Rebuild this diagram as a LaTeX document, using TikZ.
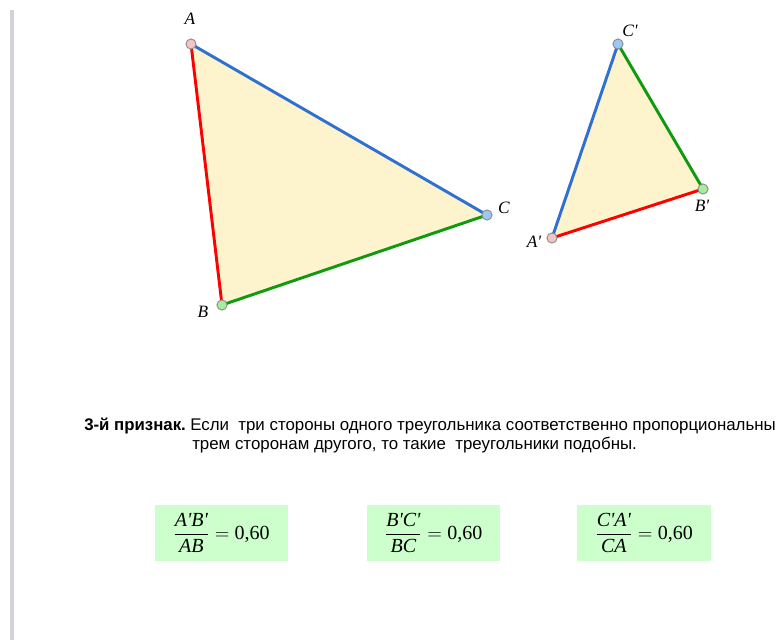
\documentclass[tikz,border=0pt]{standalone}
\usepackage{fontspec}
\usepackage{amsmath}
\setmainfont{Liberation Serif}
\newfontfamily\arialn{Liberation Sans}
\definecolor{fillY}{HTML}{FDF3CC}
\definecolor{edgeR}{HTML}{FF0000}
\definecolor{edgeB}{HTML}{3070D0}
\definecolor{edgeG}{HTML}{109A10}
\definecolor{ptP}{HTML}{F4C4C4}
\definecolor{ptG}{HTML}{A4EEA0}
\definecolor{ptB}{HTML}{9CC8F4}
\definecolor{boxG}{HTML}{CCFFCC}
\definecolor{barG}{HTML}{D2D2DA}
\newcommand{\pq}{\textquotesingle}
\newcommand{\myfrac}[2]{\genfrac{}{}{0.9pt}{0}{\text{\itshape #1}}{\text{\itshape #2}}}
\begin{document}
\begin{tikzpicture}[x=0.75pt,y=-0.75pt,
  pt/.style={circle,draw=gray!90,line width=0.7pt,inner sep=0pt,minimum size=7.6pt},
  side/.style={line width=2.2pt},
  lab/.style={font=\fontsize{13}{15}\selectfont\itshape,inner sep=0pt},
  fbox/.style={fill=boxG,minimum width=100pt,minimum height=42pt,inner sep=0pt,font=\fontsize{15}{17}\selectfont}]
\useasboundingbox (0,0) rectangle (779,640);
\fill[barG] (10,10) rectangle (13.5,640);
% first triangle
\coordinate (A) at (191,44);
\coordinate (B) at (222,305);
\coordinate (C) at (487,215);
\fill[fillY] (A) -- (B) -- (C) -- cycle;
\draw[side,edgeR] (A) -- (B);
\draw[side,edgeG] (B) -- (C);
\draw[side,edgeB] (C) -- (A);
\node[pt,fill=ptP] (pA) at (A) {};
\node[pt,fill=ptG] (pB) at (B) {};
\node[pt,fill=ptB] (pC) at (C) {};
\node[lab] (lA) at (190,19) {A};
\node[lab] (lB) at (203,312) {B};
\node[lab] (lC) at (504,208) {C};
% second triangle
\coordinate (A2) at (552,238);
\coordinate (B2) at (703,189);
\coordinate (C2) at (618,44);
\fill[fillY] (A2) -- (B2) -- (C2) -- cycle;
\draw[side,edgeR] (A2) -- (B2);
\draw[side,edgeG] (B2) -- (C2);
\draw[side,edgeB] (C2) -- (A2);
\node[pt,fill=ptP] (pA2) at (A2) {};
\node[pt,fill=ptG] (pB2) at (B2) {};
\node[pt,fill=ptB] (pC2) at (C2) {};
\node[lab] (lA2) at (534,242) {A\pq};
\node[lab] (lB2) at (702,206) {B\pq};
\node[lab] (lC2) at (630,31) {C\pq};
% text
\node[anchor=base west,inner sep=0pt,font=\arialn\fontsize{12.6}{14.25}\selectfont\bfseries] (key) at (84,430) {3-й признак.};
\node[anchor=north west,inner sep=0pt,align=left,font=\arialn\fontsize{12.65}{14.25}\selectfont] (txt) at (190,419) {Если\ \ три стороны одного треугольника соответственно пропорциональны\\
\hspace{1.5pt}трем сторонам другого, то такие\ \ треугольники подобны.};
% formula boxes
\node[fbox] (f1) at (221.5,533) {$\myfrac{A\pq B\pq}{AB}=\text{0,60}$};
\node[fbox] (f2) at (433.5,533) {$\myfrac{B\pq C\pq}{BC}=\text{0,60}$};
\node[fbox] (f3) at (644,533) {$\myfrac{C\pq A\pq}{CA}=\text{0,60}$};
\end{tikzpicture}
\end{document}
